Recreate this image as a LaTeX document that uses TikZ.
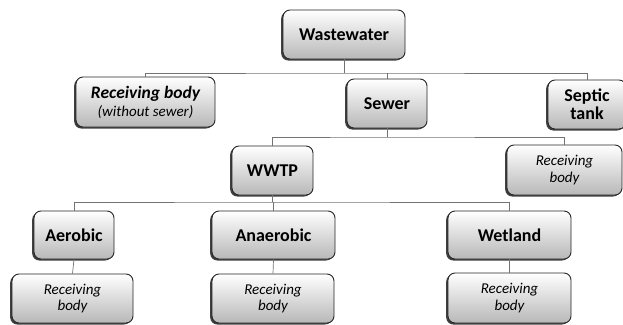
\documentclass[tikz,border=0pt]{standalone}
\usepackage{fontspec}
\setmainfont{Carlito}
\usetikzlibrary{shadows}
\begin{document}
\begin{tikzpicture}[x=1pt,y=-1pt,
  box/.style={draw=black!85, line width=0.9pt, rounded corners=7pt,
    top color=white, bottom color=black!28,
    drop shadow={shadow xshift=-1.8pt, shadow yshift=-1.5pt, opacity=0.75, fill=black},
    inner sep=0pt, align=center},
  lbl/.style={box, font=\fontsize{18}{18}\selectfont\bfseries},
  rb/.style={box, font=\fontsize{15}{16.5}\selectfont\itshape},
  conn/.style={draw=black!55, line width=0.7pt}]
\useasboundingbox (0,0) rectangle (623,324);
\begin{scope}
\clip (0,0) rectangle (623,324);
\node[lbl, minimum width=122pt, minimum height=49pt] (ww) at (344,34.5) {Wastewater};
\node[box, minimum width=139pt, minimum height=50pt, font=\fontsize{15}{18}\selectfont] (rbs) at (145.5,102)
  {{\fontsize{17.5}{18}\selectfont\bfseries\itshape Receiving body}\\{\itshape (without sewer)}};
\node[lbl, minimum width=80pt, minimum height=49pt] (sew) at (387,103.5) {Sewer};
\node[lbl, minimum width=78pt, minimum height=49pt] (sep) at (587,104.5) {Septic\\tank};
\node[lbl, minimum width=81pt, minimum height=49pt] (wwtp) at (272.5,170.5) {WWTP};
\node[rb, minimum width=115pt, minimum height=50pt] (rbr) at (564.5,170) {Receiving\\body};
\node[lbl, minimum width=80pt, minimum height=48pt] (aer) at (74,235) {Aerobic};
\node[lbl, minimum width=123pt, minimum height=48pt] (ana) at (273.5,235) {Anaerobic};
\node[lbl, minimum width=123pt, minimum height=48pt] (wet) at (509.5,235) {Wetland};
\node[rb, minimum width=121pt, minimum height=49pt] (rb1) at (72.5,298.5) {Receiving\\body};
\node[rb, minimum width=122pt, minimum height=49pt] (rb2) at (273,298.5) {Receiving\\body};
\node[rb, minimum width=123pt, minimum height=50pt] (rb3) at (509.5,298) {Receiving\\body};
\end{scope}
\coordinate (j1) at (ww.south |- 0,73);
\coordinate (j2) at (sew.south |- 0,137);
\coordinate (j3) at (wwtp.south |- 0,202);
\draw[conn] (ww.south) -- (j1);
\draw[conn] (rbs.north) |- (j1) -| (sep.north);
\draw[conn] (sew.north) -- (sew.north |- j1);
\draw[conn] (sew.south) -- (j2);
\draw[conn] (wwtp.north) |- (j2) -| (rbr.north);
\draw[conn] (wwtp.south) -- (j3);
\draw[conn] (aer.north) |- (j3) -| (wet.north);
\draw[conn] (ana.north) -- (ana.north |- j3);
\draw[conn] (aer.south) -- (rb1.north);
\draw[conn] (ana.south) -- (rb2.north);
\draw[conn] (wet.south) -- (rb3.north);
\end{tikzpicture}
\end{document}
